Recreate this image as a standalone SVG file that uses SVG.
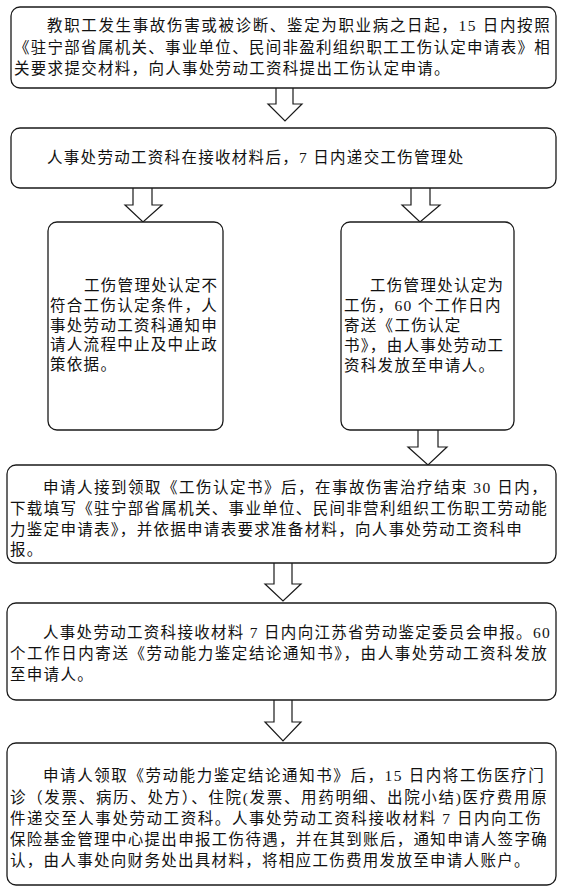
<svg xmlns="http://www.w3.org/2000/svg" width="563" height="889" viewBox="0 0 563 889">
<style>
.box{fill:#fff;stroke:#1a1a1a;stroke-width:1.3}
.arr{fill:#fff;stroke:#1a1a1a;stroke-width:1.2;stroke-linejoin:miter}
text{font-family:"Liberation Serif","Noto Sans CJK SC",serif;font-size:15.5px;fill:#111;letter-spacing:1.3px}
</style>
<rect width="563" height="889" fill="#fff"/>
<g id="connectors">
<path class="arr" d="M276,88 V104 H268 L285,121 L302,104 H293 V88"/>
<path class="arr" d="M133,188 V205 H125 L143,222 L162,205 H152 V188"/>
<path class="arr" d="M411,188 V205 H402 L420,222 L440,205 H430 V188"/>
<path class="arr" d="M418,430 V447 H408 L428,465 L447,447 H438 V430"/>
<path class="arr" d="M274,563 V584 H265 L283,601 L301,584 H292 V563"/>
<path class="arr" d="M274,700 V722 H265 L283,741 L301,722 H292 V700"/>
</g>
<g id="n1">
<rect class="box" x="11" y="7" width="545" height="81" rx="9"/>
<text x="47" y="31" textLength="504" lengthAdjust="spacing">教职工发生事故伤害或被诊断、鉴定为职业病之日起，15 日内按照</text>
<text x="14" y="53" textLength="537" lengthAdjust="spacing">《驻宁部省属机关、事业单位、民间非盈利组织职工工伤认定申请表》相</text>
<text x="14" y="74">关要求提交材料，向人事处劳动工资科提出工伤认定申请。</text>
</g>
<g id="n2">
<rect class="box" x="11" y="128" width="545" height="60" rx="9"/>
<text x="47" y="163">人事处劳动工资科在接收材料后，7 日内递交工伤管理处</text>
</g>
<g id="n3">
<rect class="box" x="48" y="222" width="175" height="208" rx="9"/>
<text x="84" y="291">工伤管理处认定不</text>
<text x="50" y="311">符合工伤认定条件，人</text>
<text x="50" y="331">事处劳动工资科通知申</text>
<text x="50" y="350">请人流程中止及中止政</text>
<text x="50" y="370">策依据。</text>
</g>
<g id="n4">
<rect class="box" x="341" y="222" width="173" height="208" rx="9"/>
<text x="370" y="291">工伤管理处认定为</text>
<text x="344" y="311">工伤，60 个工作日内</text>
<text x="344" y="331">寄送《工伤认定</text>
<text x="344" y="351">书》，由人事处劳动工</text>
<text x="344" y="371">资科发放至申请人。</text>
</g>
<g id="n5">
<rect class="box" x="7" y="465" width="549" height="98" rx="9"/>
<text x="43" y="493" textLength="505" lengthAdjust="spacing">申请人接到领取《工伤认定书》后，在事故伤害治疗结束 30 日内，</text>
<text x="10" y="514" textLength="538" lengthAdjust="spacing">下载填写《驻宁部省属机关、事业单位、民间非营利组织工伤职工劳动能</text>
<text x="10" y="535">力鉴定申请表》，并依据申请表要求准备材料，向人事处劳动工资科申</text>
<text x="10" y="555">报。</text>
</g>
<g id="n6">
<rect class="box" x="7" y="603" width="549" height="97" rx="9"/>
<text x="43" y="638" textLength="508" lengthAdjust="spacing">人事处劳动工资科接收材料 7 日内向江苏省劳动鉴定委员会申报。60</text>
<text x="10" y="659" textLength="538" lengthAdjust="spacing">个工作日内寄送《劳动能力鉴定结论通知书》，由人事处劳动工资科发放</text>
<text x="10" y="680">至申请人。</text>
</g>
<g id="n7">
<rect class="box" x="7" y="743" width="549" height="142" rx="9"/>
<text x="43" y="781" textLength="502" lengthAdjust="spacing">申请人领取《劳动能力鉴定结论通知书》后，15 日内将工伤医疗门</text>
<text x="10" y="803" textLength="538" lengthAdjust="spacing">诊（发票、病历、处方）、住院(发票、用药明细、出院小结)医疗费用原</text>
<text x="10" y="824" textLength="532" lengthAdjust="spacing">件递交至人事处劳动工资科。人事处劳动工资科接收材料 7 日内向工伤</text>
<text x="10" y="845" textLength="538" lengthAdjust="spacing">保险基金管理中心提出申报工伤待遇，并在其到账后，通知申请人签字确</text>
<text x="10" y="866">认，由人事处向财务处出具材料，将相应工伤费用发放至申请人账户。</text>
</g>
</svg>
